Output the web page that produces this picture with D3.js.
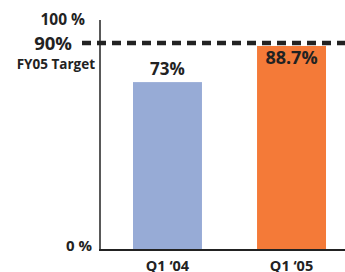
<!DOCTYPE html>
<html>
<head>
<meta charset="utf-8">
<script src="https://cdn.jsdelivr.net/npm/d3@7"></script>
<style>
  body { margin:0; background:#fff; }
  svg { display:block; font-family:"Open Sans", sans-serif; font-weight:bold; }
</style>
</head>
<body>
<div id="chart"></div>
<script>
var categories = ["Q1 \u201804", "Q1 \u201805"];
var values = [73, 88.7];
var barColors = ["#97abd6", "#f47a38"];
var target = 90;

var width = 345, height = 272;
var margin = {top: 20, right: 0, bottom: 22, left: 100};

var svg = d3.select("#chart").append("svg")
  .attr("width", width)
  .attr("height", height);

var x = d3.scaleBand().domain(categories)
  .range([margin.left, 359]).paddingInner(0.444).paddingOuter(0.266);
var y = d3.scaleLinear().domain([0, 100]).range([height - margin.bottom, margin.top]);

// bars
svg.selectAll(".bar").data(values).enter().append("rect")
  .attr("x", function(d, i){ return x(categories[i]); })
  .attr("y", function(d){ return y(d); })
  .attr("width", x.bandwidth())
  .attr("height", function(d){ return y(0) - y(d); })
  .attr("fill", function(d, i){ return barColors[i]; });

// value labels: first above the bar, second inside
svg.selectAll(".val").data(values).enter().append("text")
  .attr("x", function(d, i){ return x(categories[i]) + x.bandwidth()/2; })
  .attr("y", function(d, i){ return i == 0 ? y(d) - 7 : y(d) + 18; })
  .attr("text-anchor", "middle")
  .attr("font-size", function(d, i){ return i == 0 ? 17 : 18; })
  .attr("fill", "#222")
  .text(function(d){ return d + "%"; });

// axes lines
svg.append("line")
  .attr("x1", margin.left).attr("x2", margin.left)
  .attr("y1", y(100)).attr("y2", y(0))
  .attr("stroke", "#222").attr("stroke-width", 1.5);
svg.append("line")
  .attr("x1", margin.left - 1).attr("x2", width)
  .attr("y1", y(0)).attr("y2", y(0))
  .attr("stroke", "#222").attr("stroke-width", 2);

// target line
svg.append("line")
  .attr("x1", 82).attr("x2", width)
  .attr("y1", y(target)).attr("y2", y(target))
  .attr("stroke", "#222").attr("stroke-width", 4.5)
  .attr("stroke-dasharray", "9,6");

// y labels
svg.append("text").attr("x", 85).attr("y", y(100) + 5)
  .attr("text-anchor", "end").attr("font-size", 15.5).attr("fill", "#222").text("100 %");
svg.append("text").attr("x", 92).attr("y", y(0) + 1)
  .attr("text-anchor", "end").attr("font-size", 15).attr("fill", "#222").text("0 %");
svg.append("text").attr("x", 72).attr("y", y(target) + 7)
  .attr("text-anchor", "end").attr("font-size", 18.5).attr("fill", "#222").text(target + "%");
svg.append("text").attr("x", 95).attr("y", y(target) + 26)
  .attr("text-anchor", "end").attr("font-size", 13.5).attr("fill", "#222").text("FY05 Target");

// category labels (cut by the bottom edge, as in the original)
svg.selectAll(".cat").data(categories).enter().append("text")
  .attr("x", function(d){ return x(d) + x.bandwidth()/2; })
  .attr("y", height - 1.5)
  .attr("text-anchor", "middle")
  .attr("font-size", 14.5)
  .attr("fill", "#222")
  .text(function(d){ return d; });
</script>
</body>
</html>
